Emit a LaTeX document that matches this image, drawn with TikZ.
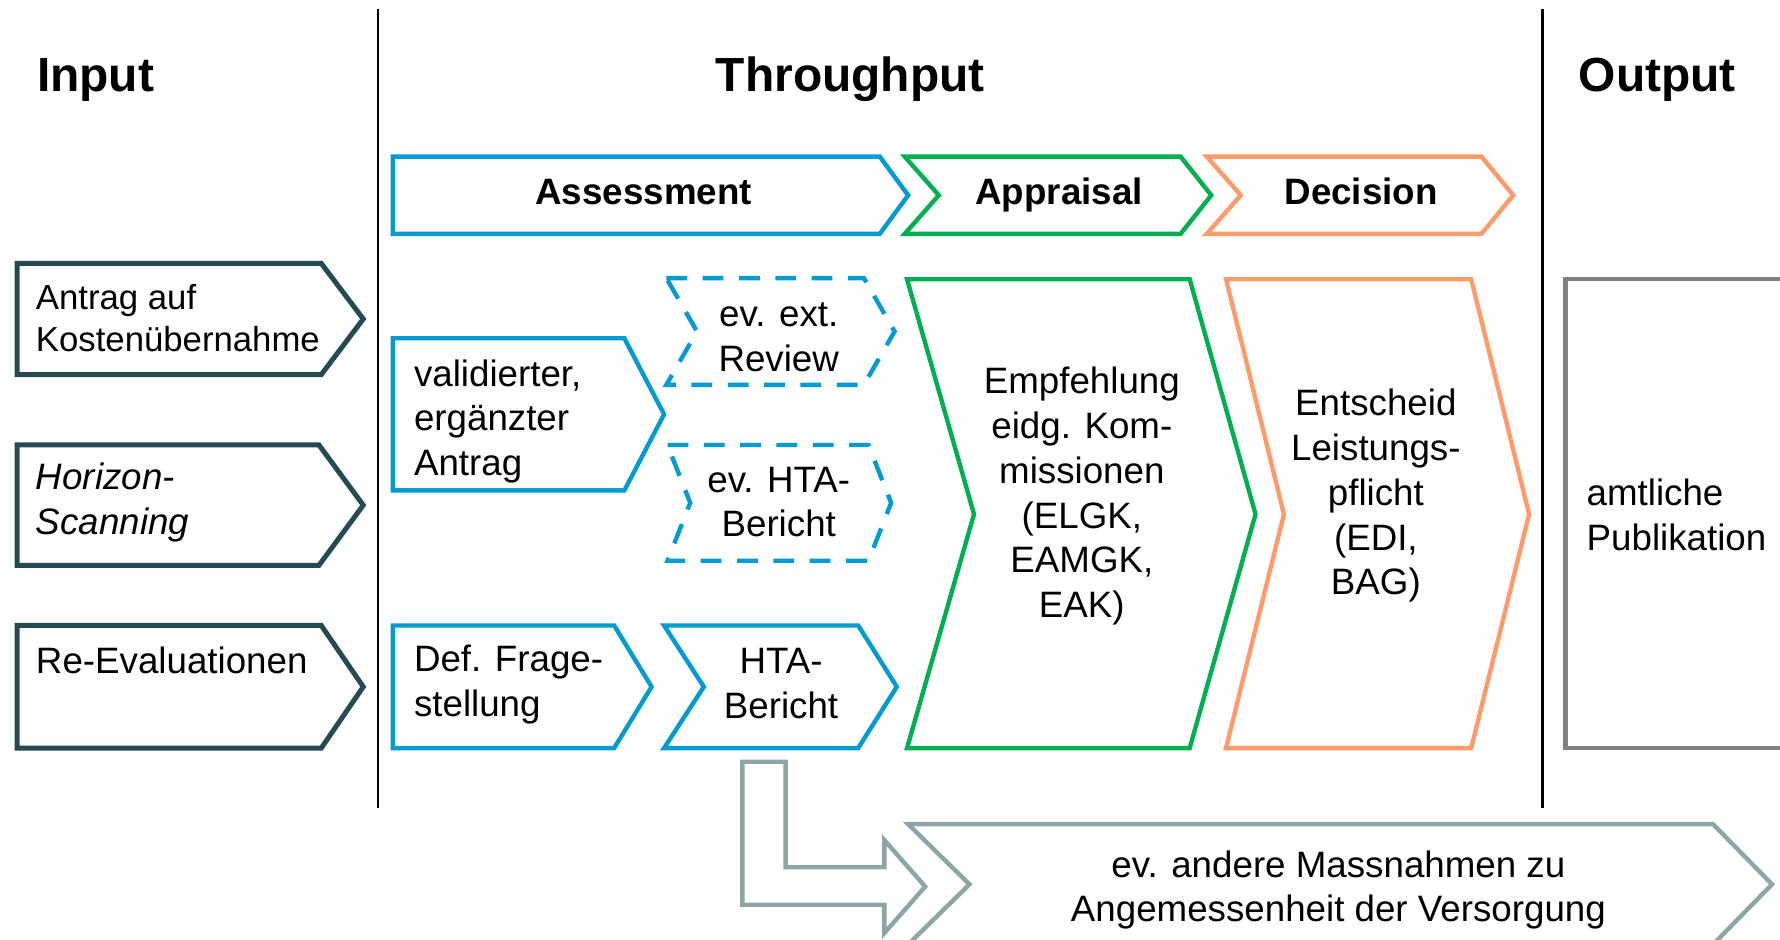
\documentclass[tikz,border=0pt]{standalone}
\usepackage{fontspec}
\setmainfont{Liberation Sans}
\usepackage{xcolor}
\usetikzlibrary{positioning}

\definecolor{inputcol}{RGB}{37,75,80}
\definecolor{assesscol}{RGB}{0,155,210}
\definecolor{appraisecol}{RGB}{0,176,80}
\definecolor{decidecol}{RGB}{255,155,105}
\definecolor{outputcol}{RGB}{128,128,128}
\definecolor{othercol}{RGB}{142,165,165}

\begin{document}
\begin{tikzpicture}[
  x=0.01cm, y=-0.01cm,
  boxtext/.style={inner sep=0, font=\fontsize{9.2}{11.2}\selectfont, align=left, anchor=base west},
  ctext/.style={boxtext, align=center, anchor=base},
  headtext/.style={inner sep=0, font=\fontsize{9.2}{11.2}\selectfont\bfseries, anchor=base},
  titletext/.style={inner sep=0, font=\fontsize{12}{14}\selectfont\bfseries, anchor=base west},
  sep/.style={draw=black, line width=0.7pt},
  inbox/.style={draw=inputcol, line width=1.25pt},
  assess/.style={draw=assesscol, line width=1.1pt},
  maybe/.style={assess, dash pattern=on 5.2pt off 3.9pt},
  appraise/.style={draw=appraisecol, line width=1.1pt},
  decide/.style={draw=decidecol, line width=1.1pt},
  outbox/.style={draw=outputcol, line width=1.1pt},
  other/.style={draw=othercol, line width=1.1pt}
]

\useasboundingbox (0,0) rectangle (1568,828);
\clip (0,0) rectangle (1568,828);

% column separators and titles
\draw [sep] (333,8) -- (333,712);
\draw [sep] (1359,8) -- (1359,712);

\node (input) [titletext] at (32,81) {Input};
\node (throughput) [titletext, anchor=base] at (749,81) {Throughput};
\node (output) [titletext] at (1390,81) {Output};

% phase headers
\draw [assess] (346,138) -- (775,138) -- (800,172) -- (775,206) -- (346,206) -- cycle;
\draw [appraise] (797,138) -- (1040,138) -- (1067,172) -- (1040,206) -- (797,206) -- (827,172) -- cycle;
\draw [decide] (1063,138) -- (1305,138) -- (1333,172) -- (1305,206) -- (1063,206) -- (1093,172) -- cycle;

\node (assessment) [headtext] at (567,180) {Assessment};
\node (appraisal) [headtext] at (933,180) {Appraisal};
\node (decision) [headtext] at (1199,180) {Decision};

% input (base = last line)
\draw [inbox] (15,232) -- (283,232) -- (320,281) -- (283,330) -- (15,330) -- cycle;
\draw [inbox] (15,392) -- (281,392) -- (320,445) -- (281,498) -- (15,498) -- cycle;
\draw [inbox] (15,551) -- (283,551) -- (320,605) -- (283,659) -- (15,659) -- cycle;

\node (antrag) [boxtext, font=\fontsize{8.7}{10.5}\selectfont] at (31,310) {Antrag auf\\Kostenübernahme};
\node (horizon) [boxtext, font=\fontsize{9.2}{11.2}\selectfont\itshape] at (31,471) {Horizon-\\Scanning};
\node (reeval) [boxtext] at (31,593) {Re-Evaluationen};

% assessment
\draw [assess] (346,298) -- (550,298) -- (585,365) -- (550,432) -- (346,432) -- cycle;
\draw [assess] (346,551) -- (541,551) -- (574,605) -- (541,659) -- (346,659) -- cycle;
\draw [assess] (585,551) -- (756,551) -- (790,605) -- (756,659) -- (585,659) -- (620,605) -- cycle;
\draw [maybe] (587,245) -- (761,245) -- (788,292) -- (761,339) -- (587,339) -- (614,292) -- cycle;
\draw [maybe] (588,392) -- (765,392) -- (785,443) -- (765,494) -- (588,494) -- (608,443) -- cycle;

\node (antragval) [boxtext] at (364,419) {validierter,\\ergänzter\\Antrag};
\node (frage) [boxtext] at (364,631) {Def. Frage-\\stellung};
\node (review) [ctext] at (686,327) {ev. ext.\\Review};
\node (htaopt) [ctext] at (686,473) {ev. HTA-\\Bericht};
\node (hta) [ctext] at (688,633) {HTA-\\Bericht};

% appraisal and decision
\draw [appraise] (799,246) -- (1048,246) -- (1106,453) -- (1048,659) -- (799,659) -- (858,453) -- cycle;
\draw [decide] (1080,246) -- (1296,246) -- (1347,453) -- (1296,659) -- (1080,659) -- (1131,453) -- cycle;

\node (empfehlung) [ctext] at (953,544) {Empfehlung\\eidg. Kom-\\missionen\\(ELGK,\\EAMGK,\\EAK)};
\node (entscheid) [ctext] at (1212,524) {Entscheid\\Leistungs-\\pflicht\\(EDI,\\BAG)};

% output
\draw [outbox] (1600,246) -- (1379,246) -- (1379,659) -- (1600,659);
\node (publikation) [boxtext] at (1397,485) {amtliche\\Publikation};

% side track below
\draw [other] (654,671) -- (692,671) -- (692,764) -- (779,764) -- (779,740) -- (815,781) -- (779,822) -- (779,797) -- (654,797) -- cycle;
\draw [other] (800,726) -- (1509,726) -- (1561,779) -- (1509,832) -- (800,832) -- (854,779) -- cycle;
\node (massnahmen) [ctext] at (1179,812) {ev. andere Massnahmen zu\\Angemessenheit der Versorgung};

\end{tikzpicture}
\end{document}
